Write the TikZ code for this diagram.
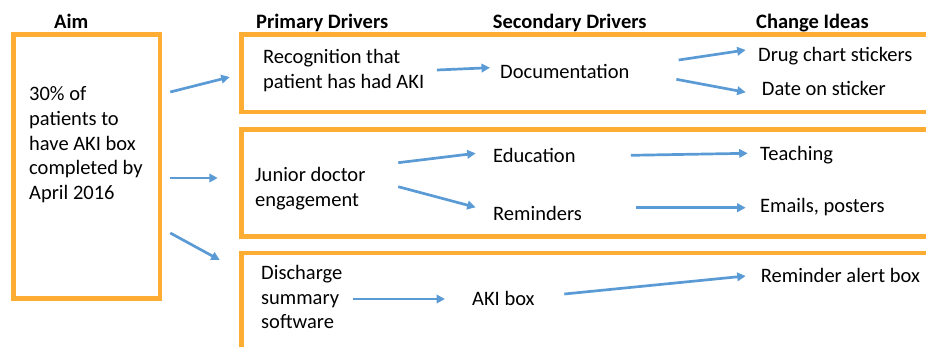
\documentclass[tikz,border=0pt]{standalone}
\usepackage{fontspec}
\setmainfont{Carlito}
\usetikzlibrary{arrows.meta, positioning, calc}
\definecolor{boxorange}{RGB}{253,172,52}
\definecolor{arrowblue}{RGB}{91,155,213}

\begin{document}
\begin{tikzpicture}[x=1pt, y=-1pt,
    txt/.style={inner sep=0pt, font=\fontsize{20.5}{24.7}\selectfont},
    heading/.style={txt, font=\fontsize{20.5}{24.7}\selectfont\bfseries},
    boxframe/.style={draw=boxorange, line width=4.5pt, rectangle, inner sep=0pt},
    flow/.style={draw=arrowblue, line width=2.7pt, -{Triangle[length=8.5pt, width=8.5pt]}}]
        \useasboundingbox (0,0) rectangle (926,346);
        \clip (0,0) rectangle (926,346);

        % Boxes
        \node[boxframe, minimum width=146.5pt, minimum height=264pt] (aim) at (86.75,166.5) {};
        \node[boxframe, minimum width=758.5pt, minimum height=77.5pt] (prim1) at (620.75,73.25) {};
        \node[boxframe, minimum width=758.5pt, minimum height=106.75pt] (prim2) at (620.75,182.9) {};
        \node[boxframe, minimum width=758.5pt, minimum height=147.25pt] (prim3) at (620.75,326.4) {};

        % Headings
        \node[heading, anchor=base west] (haim) at (54,28) {Aim};
        \node[heading, anchor=base west] (hprim) at (256,28) {Primary Drivers};
        \node[heading, anchor=base west] (hsec) at (492.7,28) {Secondary Drivers};
        \node[heading, anchor=base west] (hidea) at (756,28) {Change Ideas};

        % Nodes
        \node[txt, anchor=west, align=left] (target) at (29,144.9) {30\% of\\patients to\\have AKI box\\completed by\\April 2016};
        \node[txt, anchor=west, align=left] (recog) at (263,70.4) {Recognition that\\patient has had AKI};
        \node[txt, anchor=base west] (docu) at (500,78) {Documentation};
        \node[txt, anchor=base west] (sticker) at (758,61.7) {Drug chart stickers};
        \node[txt, anchor=base west] (date) at (761.7,95.7) {Date on sticker};
        \node[txt, anchor=west, align=left] (junior) at (255,188.9) {Junior doctor\\engagement};
        \node[txt, anchor=base west] (educ) at (493,162) {Education};
        \node[txt, anchor=base west] (remind) at (493,220) {Reminders};
        \node[txt, anchor=base west] (teach) at (760,160) {Teaching};
        \node[txt, anchor=base west] (emails) at (760,212) {Emails, posters};
        \node[txt, anchor=west, align=left] (software) at (261,297.25) {Discharge\\summary\\software};
        \node[txt, anchor=base west] (akibox) at (472,305) {AKI box};
        \node[txt, anchor=base west] (alert) at (760.7,282.7) {Reminder alert box};

        % Connections
        \draw[flow] ($(aim.east)+(8,-74.5)$) -- ($(prim1.west)+(-9.5,3.75)$);
        \draw[flow] ($(aim.east)+(8,11.5)$) -- ($(prim2.west)+(-21.5,-4.9)$);
        \draw[flow] ($(aim.east)+(8,66.5)$) -- ($(prim3.west)+(-19.5,-66.4)$);
        \draw[flow] ($(recog.east)+(12.5,-0.4)$) -- ($(docu.base west)+(-10,-10.3)$);
        \draw[flow] ($(docu.base east)+(49,-18)$) -- ($(sticker.base west)+(-12.3,-11.7)$);
        \draw[flow] ($(docu.base east)+(46.7,1.3)$) -- ($(date.base west)+(-16,-3.4)$);
        \draw[flow] ($(junior.east)+(32.6,-26.2)$) -- ($(educ.base west)+(-17.3,-8.7)$);
        \draw[flow] ($(junior.east)+(32.6,-2.2)$) -- ($(remind.base west)+(-17.3,-12.7)$);
        \draw[flow] ($(educ.base east)+(55,-6.7)$) -- ($(teach.base west)+(-12.3,-6.7)$);
        \draw[flow] ($(remind.base east)+(54,-12.3)$) -- ($(emails.base west)+(-14.3,-4.3)$);
        \draw[flow] ($(software.east)+(10.7,1.75)$) -- ($(akibox.base west)+(-27,-6)$);
        \draw[flow] ($(akibox.base east)+(29.5,-11)$) -- ($(alert.base west)+(-15,-6.7)$);
    \end{tikzpicture}
\end{document}
